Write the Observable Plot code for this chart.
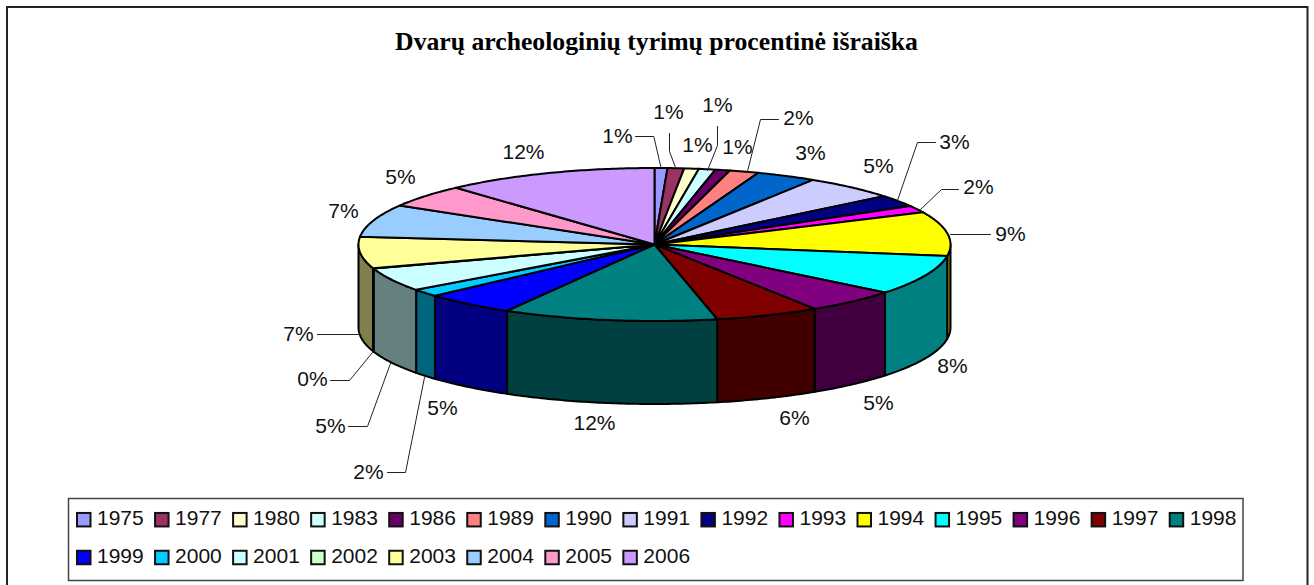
<!DOCTYPE html>
<html>
<head>
<meta charset="utf-8">
<script src="https://cdn.jsdelivr.net/npm/d3@7"></script>
<script src="https://cdn.jsdelivr.net/npm/@observablehq/plot@0.6"></script>
<style>html,body{margin:0;padding:0;background:#fff;overflow:hidden}svg{display:block}</style>
</head>
<body>
<div id="chart"></div>
<script>
const titleText = "Dvarų archeologinių tyrimų procentinė išraiška";
const years = [1975,1977,1980,1983,1986,1989,1990,1991,1992,1993,1994,1995,1996,1997,1998,1999,2000,2001,2002,2003,2004,2005,2006];
const shares = [0.7,0.9,0.8,0.9,0.8,1.6,3.3,5.1,2.5,1.5,9.3,8.4,5.1,5.7,11.7,5.0,1.6,5.0,0.1,6.6,6.9,4.8,11.7];
const colors = ["#9999FF","#993366","#FFFFCC","#CCFFFF","#660066","#FF8080","#0066CC","#CCCCFF","#000080","#FF00FF","#FFFF00","#00FFFF","#800080","#800000","#008080","#0000FF","#00CCFF","#CCFFFF","#CCFFCC","#FFFF99","#99CCFF","#FF99CC","#CC99FF"];

// Layout (not data): label centres and optional leader polylines, one per slice.
const labelCentres = [[617,136],[668,112],[697,145],[717,105],[737,147],[798,118],[810,153],[878,166],[954,142],[978,187],[1010,234],[952,366],[878,403],[794,418],[594,423],[442,408],[368,472],[330,426],[312,379],[298,334],[343,211],[400,177],[523,152]];
const leaders = {
  1975:[[660.7,168],[653.3,136],[635,136]],
  1977:[[675,167],[669,151],[669,133]],
  1983:[[707,170],[717,145],[717,126]],
  1989:[[747,171],[760,119],[778,119]],
  1992:[[897,200],[917,142],[935,142]],
  1993:[[920,209],[941,189],[958,189]],
  1994:[[950,234],[990,234]],
  2000:[[424,377],[405,472],[387,472]],
  2001:[[390,363],[367,426],[348,426]],
  2002:[[372,352],[349,380],[330,380]],
  2003:[[359,334],[317,334]]
};
const W = 1314, H = 585;
const pie = {cx:654, cy:244, rx:296, ry:76.5, depth:83};
const legendBox = {x1:68.5, x2:1243, y1:498.5, y2:580.5, x0:77, step:78.05, rows:[519.7,557.5], perRow:15, sw:13.5};

const total = d3.sum(shares);
const rim = (t, dz=0) => ({x: pie.cx + pie.rx*Math.sin(t), y: pie.cy - pie.ry*Math.cos(t) + dz});
const darken = c => { const r = d3.rgb(c); return d3.rgb(r.r/2, r.g/2, r.b/2).formatHex(); };

let acc = 0;
const slices = years.map((year,i) => {
  const a0 = acc/total*2*Math.PI; acc += shares[i]; const a1 = acc/total*2*Math.PI;
  return {year, a0, a1, color: colors[i], pct: Math.round(shares[i])+"%"};
});
const arcAngles = (a0,a1) => { const n = Math.max(2, Math.ceil((a1-a0)/0.012)); return d3.range(n+1).map(k => a0+(a1-a0)*k/n); };

const sidePts = [], topPts = [];
for (const s of slices) {
  const lo = Math.max(s.a0, Math.PI/2), hi = Math.min(s.a1, 3*Math.PI/2);
  if (hi > lo) {
    const ts = arcAngles(lo,hi);
    const key = "side"+s.year, fill = darken(s.color);
    ts.forEach(t => sidePts.push({...rim(t), key, fill}));
    ts.slice().reverse().forEach(t => sidePts.push({...rim(t,pie.depth), key, fill}));
  }
  const key = "top"+s.year;
  topPts.push({x:pie.cx, y:pie.cy, key, fill:s.color});
  arcAngles(s.a0,s.a1).forEach(t => topPts.push({...rim(t), key, fill:s.color}));
}
const labels = slices.map((s,i) => ({text:s.pct, x:labelCentres[i][0], y:labelCentres[i][1]}));
const leaderPts = Object.entries(leaders).flatMap(([k,pts]) => pts.map(([x,y]) => ({x,y,k})));
const legendItems = slices.map((s,i) => {
  const col = i % legendBox.perRow, row = Math.floor(i/legendBox.perRow);
  return {year:String(s.year), color:s.color, x:legendBox.x0+col*legendBox.step, y:legendBox.rows[row]};
});
const sans = "Liberation Sans, Arial, sans-serif";

const chart = Plot.plot({
  width:W, height:H, margin:0,
  x:{domain:[0,W], range:[0,W], axis:null},
  y:{domain:[0,H], range:[0,H], axis:null},
  color:{type:"identity"},
  marks:[
    Plot.rect([{x1:7,x2:1307.5,y1:7,y2:600}],{x1:"x1",x2:"x2",y1:"y1",y2:"y2",fill:"white",stroke:"#222",strokeWidth:2}),
    Plot.text([titleText],{x:()=>656,y:()=>41,text:d=>d,fontFamily:"Liberation Serif, Times New Roman, serif",fontWeight:"bold",fontSize:25.7,fill:"black"}),
    Plot.line(sidePts,{x:"x",y:"y",z:"key",fill:"fill",stroke:"black",strokeWidth:2,curve:"linear-closed",strokeLinejoin:"round"}),
    Plot.line(topPts,{x:"x",y:"y",z:"key",fill:"fill",stroke:"black",strokeWidth:2,curve:"linear-closed",strokeLinejoin:"round"}),
    Plot.line(leaderPts,{x:"x",y:"y",z:"k",stroke:"#222",strokeWidth:1,curve:"linear"}),
    Plot.text(labels,{x:"x",y:"y",text:"text",fontFamily:sans,fontSize:21,fill:"#111"}),
    Plot.rect([legendBox],{x1:"x1",x2:"x2",y1:"y1",y2:"y2",fill:"white",stroke:"#444",strokeWidth:1.5}),
    Plot.rect(legendItems,{x1:"x",x2:d=>d.x+legendBox.sw,y1:d=>d.y-legendBox.sw/2,y2:d=>d.y+legendBox.sw/2,fill:"color",stroke:"#111",strokeWidth:2}),
    Plot.text(legendItems,{x:d=>d.x+legendBox.sw+6,y:d=>d.y-2,text:"year",textAnchor:"start",fontFamily:sans,fontSize:21,fill:"#111"})
  ]
});
document.getElementById("chart").append(chart);
</script>
</body>
</html>
